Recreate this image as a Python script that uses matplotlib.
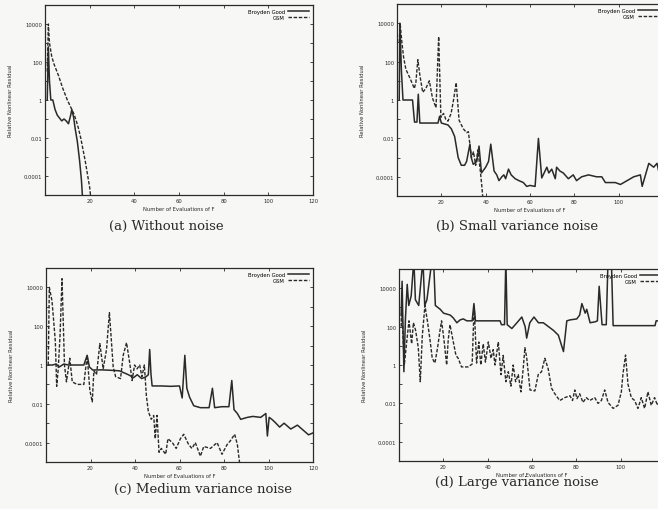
import numpy as np
import matplotlib
matplotlib.use("Agg")
import matplotlib.pyplot as plt

# values are log10 of the relative nonlinear residual
# (a) without noise
a_bg_x   = [1, 1.5, 2, 2.6, 3.5, 4.5, 5.5, 6.5, 7.5, 8.5, 9.5, 10.5, 11.5, 12, 12.8, 13.5, 14.5, 15.5, 16.3, 17]
a_bg_log = [0, 2.8, 1.0, 0, 0, -0.5, -0.8, -0.95, -1.1, -1.0, -1.1, -1.25, -0.8, -0.5, -0.9, -1.5, -2.2, -3.2, -4.2, -5.5]
a_gsm_x   = [1, 1.5, 2, 3, 4, 6, 8, 10, 12, 13, 14, 15, 16, 17, 18, 19, 20, 20.8]
a_gsm_log = [1.5, 4.0, 3.0, 2.3, 1.9, 1.3, 0.6, 0.0, -0.5, -0.75, -1.1, -1.5, -2.0, -2.6, -3.2, -3.9, -4.6, -5.5]

# (b) small variance noise
b_bg_x = [1, 1.3, 2, 2.7, 7, 7.9, 9, 9.6, 10.3, 18.5, 19.2, 20, 23, 24.5, 26, 27.6, 29, 30.5, 31.4, 32.9,
          33.5, 34.4, 36, 37, 38.1, 40, 41.3, 42.3, 43.8, 45, 46, 47.3, 48.2, 49, 50.3, 51.5, 53.3, 55, 57,
          58.5, 60, 62.3, 63.8, 65.3, 67.6, 68.5, 69.8, 71.4, 72, 73.5, 75, 77.3, 79.5, 81, 83.3, 86.4, 90,
          92.4, 94, 98.5, 100.8, 103.8, 106.8, 109.8, 110.6, 113.6, 115.8, 117.3, 118.8, 120]
b_bg_log = [0, 4.0, 1.5, 0, 0, -1.15, -1.15, 0.3, -1.2, -1.2, -0.85, -1.2, -1.3, -1.5, -1.9, -3.0, -3.4, -3.4, -3.2, -2.3,
            -3.0, -3.35, -3.2, -2.4, -3.8, -3.5, -3.2, -2.3, -3.7, -3.9, -4.2, -4.0, -3.9, -4.1, -3.6, -3.9, -4.1, -4.2, -4.3,
            -4.5, -4.45, -4.5, -2.0, -4.06, -3.5, -3.8, -3.6, -4.1, -3.5, -3.7, -3.8, -4.1, -3.9, -4.2, -4.0, -3.9, -4.0,
            -4.0, -4.3, -4.3, -4.4, -4.2, -4.0, -3.9, -4.5, -3.3, -3.5, -3.3, -4.1, -3.9]
b_gsm_x = [1, 1.4, 2.2, 3, 4, 6, 7.8, 8.5, 9.4, 10.3, 11.6, 13, 14.6, 16, 17.6, 18.8, 19.8, 21, 22, 23, 24.4,
           25.5, 26.7, 28, 29.9, 31.4, 32.2, 33.6, 34.5, 35.5, 36.5, 37.5, 38.2, 39]
b_gsm_log = [3.0, 4.0, 3.0, 2.2, 1.6, 1.1, 0.6, 0.9, 2.1, 1.3, 0.4, 0.6, 1.0, 0.1, -0.4, 3.3, -0.9, -0.7, -1.0, -1.1, -0.7,
             0.0, 0.9, -1.05, -1.5, -1.7, -1.65, -3.0, -2.7, -3.4, -2.6, -3.6, -4.4, -5.5]

# (c) medium variance noise
c_bg_x = [1, 3, 4.5, 6, 8, 10, 14, 17, 18.5, 19.5, 21, 25, 30.4, 33, 35, 37, 39.4, 41, 43, 45, 46, 46.6, 47.2,
          47.7, 52, 56, 60, 61.2, 62.4, 63.3, 64.5, 66.4, 69.4, 73.3, 74.8, 75.8, 79, 82.2, 83.5, 84.5, 86, 87.5,
          90.5, 93, 96.5, 98.8, 99.5, 100.3, 101.5, 103, 105, 107, 110, 113, 115, 118, 120]
c_bg_log = [0, 0, 0.05, -0.1, 0.05, 0, 0, 0, 0.5, -0.1, -0.26, -0.25, -0.28, -0.3, -0.4, -0.5, -0.65, -0.5, -0.7, -0.6, -0.5, 0.8, -0.5,
            -1.08, -1.08, -1.1, -1.08, -1.7, 0.5, -1.2, -1.65, -2.1, -2.2, -2.2, -1.2, -2.2, -2.15, -2.15, -0.8, -2.3, -2.5, -2.8,
            -2.7, -2.65, -2.7, -2.5, -3.66, -2.7, -2.8, -2.96, -3.2, -3.0, -3.3, -3.1, -3.3, -3.6, -3.5]
c_gsm_x = [1, 1.5, 2.7, 3.5, 4.2, 4.8, 5.5, 6.3, 7.2, 8.3, 9.2, 10.7, 11.8, 14, 17, 18.5, 19.7, 20.8, 21.5, 22.7,
           24.2, 25.7, 27.2, 28.5, 30.2, 31.3, 33.5, 34.7, 36.2, 37.7, 38.7, 39.8, 40.9, 42.1, 43.1, 44.2, 45.1, 46,
           47.3, 48.4, 49.1, 49.9, 50.8, 51.8, 53.8, 54.8, 56.8, 58.5, 60.4, 61.9, 64.1, 65.6, 67.1, 69.4, 70.9, 73.9,
           76.9, 79.1, 81.4, 82.9, 84.8, 86, 87.5]
c_gsm_log = [0, 4.0, 3.3, 2.2, 1.2, -1.1, -0.2, 1.5, 4.45, 0, -0.87, 0.35, -0.87, -1.0, -1.0, 0.5, -1.3, -1.9, -0.3, -0.5,
             1.1, -0.2, 0.8, 2.7, -0.1, -0.6, -0.7, 0.5, 1.15, 0.05, -0.8, 0.0, -0.2, 0.0, -0.6, 0.0, -1.57, -2.4,
             -2.8, -2.6, -3.8, -2.6, -4.5, -4.3, -4.6, -3.8, -4.0, -4.3, -3.8, -3.57, -4.1, -4.3, -4.0, -4.7, -4.2, -4.3,
             -4.0, -4.6, -4.1, -3.9, -3.57, -4.1, -5.5]

# (d) large variance noise
d_bg_x = [1, 1.4, 1.8, 2.2, 2.9, 3.7, 4.4, 5.5, 6.7, 7.4, 8.9, 10.8, 11.6, 12.6, 14.9, 15.6, 16.4, 18.6, 20.1,
          23.1, 24.5, 26.1, 27.6, 29, 30.6, 33, 33.8, 34.5, 40, 45.6, 46.2, 47.6, 48.2, 48.8, 50.9, 53.2, 55.4,
          56.9, 57.6, 59, 60.9, 62.9, 65.1, 67.4, 69.7, 71.9, 74.2, 75.7, 77.2, 80.2, 81.5, 82.5, 84, 84.7, 86.2,
          88.5, 89.5, 90.3, 91.6, 93.5, 94.3, 95.8, 96.6, 105, 115.5, 116, 120]
d_bg_log = [2.6, 4.36, 2.0, -0.35, 2.4, 4.2, 3.1, 3.6, 5.5, 3.4, 3.1, 5.5, 3.1, 3.4, 5.5, 5.5, 3.1, 2.9, 2.7,
            2.6, 2.45, 2.2, 2.35, 2.4, 2.3, 2.3, 3.2, 2.3, 2.3, 2.3, 2.1, 2.1, 5.5, 2.1, 1.9, 2.2, 2.5,
            2.0, 1.4, 2.2, 2.5, 2.2, 2.2, 2.0, 1.8, 1.55, 0.7, 2.3, 2.35, 2.4, 2.6, 3.2, 2.7, 2.9, 2.2,
            2.25, 2.3, 4.1, 2.1, 2.1, 5.5, 5.5, 2.05, 2.05, 2.05, 2.3, 2.3]
d_gsm_x = [1, 1.2, 2.4, 3.2, 4.5, 5.7, 6.5, 7.5, 8.7, 9.6, 10.5, 11.7, 12.8, 14, 15, 16.2, 17.4, 18.5, 19.2, 20.4,
           21.5, 22.2, 23, 24.5, 25.7, 26.7, 28.2, 31.2, 33, 33.9, 35, 36, 36.9, 38, 39, 40.3, 41.5, 42.5, 43.3,
           44.8, 46, 47, 48.2, 49.3, 50.5, 51.5, 52.6, 53.8, 55, 56.1, 56.8, 57.6, 59.1, 61.3, 62.8, 64.3, 65.8,
           67.3, 68.8, 70.3, 72.5, 74.8, 77.1, 78.3, 79.3, 80.3, 81.5, 83, 84.5, 86, 88.3, 89.8, 91.3, 92.8, 94.3,
           96.6, 98.8, 100.3, 101, 102.2, 103.3, 104.8, 106.3, 107.8, 109.3, 110.8, 112.3, 113.8, 115.3, 116.6, 118, 120]
d_gsm_log = [2.0, 3.1, 0, 0.9, 2.3, 1.1, 2.2, 1.8, 0.9, -0.87, 1.5, 3.1, 2.3, 1.3, 0.35, 0.1, 0.9, 1.8, 2.3, 1.2,
             0, 1.3, 2.1, 1.2, 0.5, 0.35, -0.1, -0.1, 0.05, 3.1, 0.1, 1.2, 0, 1.1, 0.15, 1.2, 0.35, 0.8, 0,
             1.2, -0.5, 0.5, -0.87, -0.35, -1.1, 0, -0.87, -0.5, -1.4, -0.1, 0.9, 0.4, -1.3, -1.35, -0.5, -0.35, 0.35,
             -0.2, -1.2, -1.5, -1.85, -1.7, -1.6, -1.85, -1.3, -1.75, -1.5, -1.95, -1.7, -1.85, -1.7, -2.0, -1.85, -1.3, -1.95,
             -2.26, -2.1, -1.4, -0.5, 0.52, -1.0, -1.7, -1.85, -2.26, -1.7, -2.26, -1.4, -2.1, -1.7, -2.1, -1.8, -2.0]

captions = ["(a) Without noise", "(b) Small variance noise",
            "(c) Medium variance noise", "(d) Large variance noise"]
xticks = [20, 40, 60, 80, 100, 120]
yticks = [1e4, 1e2, 1, 1e-2, 1e-4]
ytick_labels = ["10000", "100", "1", "0.01", "0.0001"]

W, H = 658, 510
fig = plt.figure(figsize=(W / 100, H / 100), dpi=100)
fig.patch.set_facecolor("#f7f7f5")
ink = "#2a2a2a"

# axes boxes in pixels: left, right, top, bottom (right column is cut by the page edge)
boxes = [(45, 313, 6, 196), (397, 663, 5, 197), (46, 313, 269, 463), (399, 665, 270, 462)]
series = [(a_bg_x, a_bg_log, a_gsm_x, a_gsm_log), (b_bg_x, b_bg_log, b_gsm_x, b_gsm_log),
          (c_bg_x, c_bg_log, c_gsm_x, c_gsm_log), (d_bg_x, d_bg_log, d_gsm_x, d_gsm_log)]

for k in range(4):
   l, r, t, b = boxes[k]
   ax = fig.add_axes([l / W, 1 - b / H, (r - l) / W, (b - t) / H])
   ax.set_facecolor("#f7f7f5")
   bx, by, gx, gy = series[k]
   ax.plot(bx, 10 ** np.array(by), color=ink, lw=1.1, label="Broyden Good")
   ax.plot(gx, 10 ** np.array(gy), color=ink, lw=1.0, dashes=(2.5, 1.2), label="GSM")
   ax.set_yscale("log")
   ax.set_xlim(0, 120)
   ax.set_ylim(1e-5, 1e5)
   ax.set_xticks(xticks)
   ax.set_xticklabels([str(v) for v in xticks])
   ax.set_yticks([10.0 ** e for e in range(-5, 6)])
   ax.set_yticklabels(["" if 10.0 ** e not in yticks else ytick_labels[yticks.index(10.0 ** e)] for e in range(-5, 6)])
   ax.minorticks_off()
   ax.tick_params(direction="in", length=2.5, width=0.6, labelsize=3.8, top=True, right=True, pad=2, colors=ink)
   for s in ax.spines.values():
      s.set_linewidth(0.9)
      s.set_color(ink)
   ax.set_xlabel("Number of Evaluations of F", fontsize=3.8, labelpad=2, color=ink)
   ax.set_ylabel("Relative Nonlinear Residual", fontsize=3.8, labelpad=8, color=ink)
   # gnuplot style key: text first, line sample on the right
   ax.legend(loc="upper right", fontsize=3.8, frameon=False, handlelength=4, markerfirst=False,
             borderaxespad=0.3, labelspacing=0.2, handletextpad=0.6)

cap_pos = [(166, 226), (517, 226), (203, 489), (517, 483)]
for k in range(4):
   fig.text(cap_pos[k][0] / W, 1 - cap_pos[k][1] / H, captions[k], ha="center", va="center",
            fontsize=9.5, family="DejaVu Serif", color=ink)

fig.savefig("out.png", dpi=100, facecolor=fig.get_facecolor())
